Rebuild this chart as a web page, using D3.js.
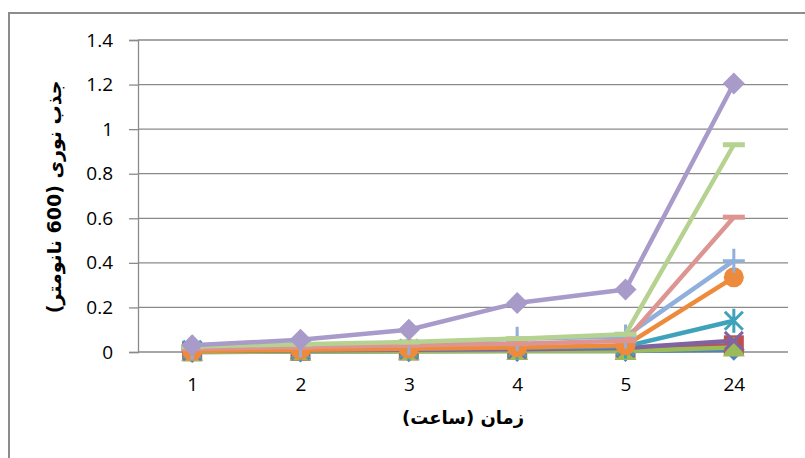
<!DOCTYPE html>
<html>
<head>
<meta charset="utf-8">
<script src="https://cdn.jsdelivr.net/npm/d3@7"></script>
<style>
  html, body { margin: 0; padding: 0; background: #fff; }
  svg { display: block; }
</style>
</head>
<body>
<svg id="chart" width="805" height="458"></svg>
<script>
// Absorbance readings over time
const hours = ["1", "2", "3", "4", "5", "24"];
const yTicks = [0, 0.2, 0.4, 0.6, 0.8, 1, 1.2, 1.4];

const s1 = [0.000, 0.002, 0.003, 0.004, 0.005, 0.010];
const s2 = [0.003, 0.005, 0.007, 0.010, 0.015, 0.030];
const s3 = [0.000, 0.002, 0.003, 0.004, 0.005, 0.020];
const s4 = [0.005, 0.008, 0.010, 0.012, 0.018, 0.050];
const s5 = [0.010, 0.012, 0.015, 0.020, 0.025, 0.140];
const s6 = [0.005, 0.010, 0.015, 0.020, 0.030, 0.335];
const s7 = [0.020, 0.030, 0.040, 0.060, 0.070, 0.410];
const s8 = [0.015, 0.022, 0.030, 0.037, 0.050, 0.605];
const s9 = [0.025, 0.035, 0.045, 0.060, 0.080, 0.930];
const s10 = [0.030, 0.055, 0.100, 0.220, 0.280, 1.205];

const seriesList = [
  { values: s1, color: "#4f81bd", marker: "diamond" },
  { values: s2, color: "#c0504d", marker: "square" },
  { values: s3, color: "#9bbb59", marker: "triangle" },
  { values: s4, color: "#8064a2", marker: "x" },
  { values: s5, color: "#3fa2bb", marker: "star" },
  { values: s6, color: "#ee8a3c", marker: "circle" },
  { values: s7, color: "#8fb0dc", marker: "plus" },
  { values: s8, color: "#dd9592", marker: "dash" },
  { values: s9, color: "#b6d291", marker: "dash" },
  { values: s10, color: "#a89bc9", marker: "diamond" }
];

const svg = d3.select("#chart");
const plotLeft = 138, plotRight = 788, plotTop = 40, plotBottom = 352;

const x = d3.scalePoint().domain(hours).range([plotLeft, plotRight]).padding(0.5);
const y = d3.scaleLinear().domain([0, 1.4]).range([plotBottom, plotTop]);

// outer frame
svg.append("rect")
  .attr("x", 9).attr("y", 13).attr("width", 820).attr("height", 470)
  .attr("fill", "none").attr("stroke", "#8c8c8c").attr("stroke-width", 2);

// horizontal gridlines
svg.append("g")
  .selectAll("line").data(yTicks.filter(d => d > 0)).join("line")
  .attr("x1", plotLeft).attr("x2", plotRight)
  .attr("y1", d => y(d)).attr("y2", d => y(d))
  .attr("stroke", "#8a8a8a").attr("stroke-width", 1.3);

// y axis
const yAxis = svg.append("g").attr("transform", `translate(${plotLeft},0)`)
  .call(d3.axisLeft(y).tickValues(yTicks).tickFormat(d => String(+d.toFixed(1))).tickSize(9).tickPadding(16));
yAxis.select(".domain").attr("stroke", "#8a8a8a").attr("stroke-width", 1.3);
yAxis.selectAll(".tick line").attr("stroke", "#8a8a8a").attr("stroke-width", 1.3);
yAxis.selectAll(".tick text").attr("fill", "#000")
  .style("font-family", "'Open Sans', 'Noto Sans', sans-serif").style("font-size", "19px");

// x axis
const xAxis = svg.append("g").attr("transform", `translate(0,${plotBottom})`)
  .call(d3.axisBottom(x).tickSize(0).tickPadding(26));
xAxis.select(".domain").attr("stroke", "#8a8a8a").attr("stroke-width", 1.3)
  .attr("d", `M${plotLeft},0H${plotRight}`);
xAxis.selectAll(".tick text").attr("fill", "#000")
  .style("font-family", "'Open Sans', 'Noto Sans', sans-serif").style("font-size", "19px");

// marker shapes
function markerPath(type) {
  switch (type) {
    case "diamond": return "M0,-11L11,0L0,11L-11,0Z";
    case "square": return "M-10,-10H10V10H-10Z";
    case "triangle": return "M0,-11L11,9H-11Z";
    case "circle": return "M-10,0A10,10 0 1,0 10,0A10,10 0 1,0 -10,0Z";
    case "x": return "M-9,-9L9,9M9,-9L-9,9";
    case "star": return "M-9,-9L9,9M9,-9L-9,9M0,-12V12";
    case "plus": return "M-11,0H11M0,-12V12";
    case "dash": return "M-11,0H11";
  }
}
const stroked = { x: true, star: true, plus: true, dash: true };

const line = d3.line().x((d, i) => x(hours[i])).y(d => y(d));

seriesList.forEach(s => {
  const g = svg.append("g");
  g.append("path").datum(s.values)
    .attr("d", line).attr("fill", "none")
    .attr("stroke", s.color).attr("stroke-width", 4.5)
    .attr("stroke-linejoin", "round");
  g.selectAll("path.m").data(s.values).join("path")
    .attr("class", "m")
    .attr("transform", (d, i) => `translate(${x(hours[i])},${y(d)})`)
    .attr("d", markerPath(s.marker))
    .attr("fill", stroked[s.marker] ? "none" : s.color)
    .attr("stroke", s.color)
    .attr("stroke-width", s.marker === "dash" ? 5 : (stroked[s.marker] ? 3 : 0));
});

// axis titles
svg.append("text")
  .attr("x", (plotLeft + plotRight) / 2).attr("y", 424)
  .attr("text-anchor", "middle").attr("direction", "rtl")
  .style("font-family", "'DejaVu Sans', sans-serif").style("font-size", "18px").style("font-weight", "bold")
  .text("زمان (ساعت)");

svg.append("text")
  .attr("transform", "translate(61,197) rotate(-90)")
  .attr("text-anchor", "middle").attr("direction", "rtl")
  .style("font-family", "'DejaVu Sans', sans-serif").style("font-size", "19px").style("font-weight", "bold")
  .text("جذب نوری (600 نانومتر)");
</script>
</body>
</html>
